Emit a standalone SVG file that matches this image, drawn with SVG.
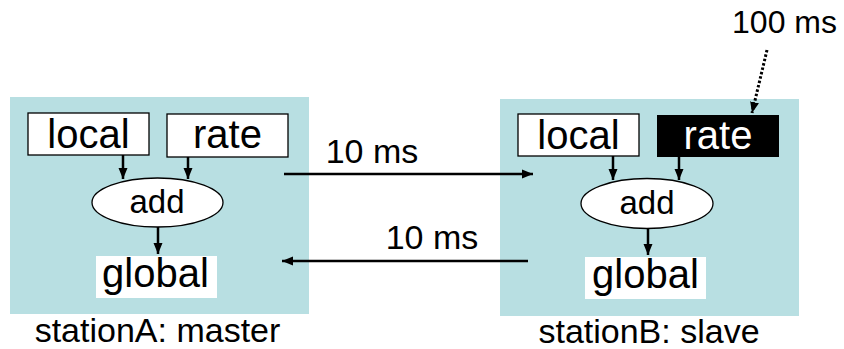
<svg xmlns="http://www.w3.org/2000/svg" width="844" height="349" viewBox="0 0 844 349">
<defs>
<marker id="ah" markerUnits="userSpaceOnUse" markerWidth="12" markerHeight="12" viewBox="0 0 12 12" refX="11" refY="6" orient="auto">
<path d="M0,1.5 L11,6 L0,10.5 Z" fill="#000"/>
</marker>
<style>
.panel{fill:#b8dfe2}
.box{fill:#fff;stroke:#000;stroke-width:1.3}
.t{font-family:"Liberation Sans",Arial,sans-serif;fill:#000;text-anchor:middle}
.con{stroke:#000;stroke-width:2.5;fill:none;marker-end:url(#ah)}
.dot{stroke:#000;stroke-width:3;fill:none;stroke-dasharray:2.5 2;marker-end:url(#ah)}
</style>
</defs>
<rect width="844" height="349" fill="#fff"/>
<g id="stationA">
<rect class="panel" x="10" y="97" width="299" height="217"/>
<text class="t" x="157.5" y="342" font-size="34">stationA: master</text>
</g>
<g id="stationB">
<rect class="panel" x="500" y="99" width="299" height="217"/>
<text class="t" x="649" y="343" font-size="34">stationB: slave</text>
</g>
<g id="localA"><rect class="box" x="28" y="113" width="121" height="42"/><text class="t" x="88.5" y="148" font-size="40">local</text></g>
<g id="rateA"><rect class="box" x="167" y="114" width="121" height="43"/><text class="t" x="227.5" y="148" font-size="40">rate</text></g>
<g id="addA"><ellipse cx="157.5" cy="202.5" rx="65.5" ry="24.5" class="box"/><text class="t" x="157" y="213" font-size="33">add</text></g>
<g id="globalA"><rect x="96" y="256" width="121" height="42" fill="#fff"/><text class="t" x="155.5" y="287" font-size="40">global</text></g>
<g id="localB"><rect class="box" x="518" y="114" width="121" height="42"/><text class="t" x="578.5" y="149" font-size="40">local</text></g>
<g id="rateB"><rect x="657" y="115" width="122" height="42" fill="#000"/><text class="t" x="718" y="149" font-size="40" style="fill:#fff">rate</text></g>
<g id="addB"><ellipse cx="647" cy="203.5" rx="66" ry="25" class="box"/><text class="t" x="647" y="214" font-size="33">add</text></g>
<g id="globalB"><rect x="585" y="257" width="121" height="42" fill="#fff"/><text class="t" x="645.5" y="288" font-size="40">global</text></g>
<g id="label100"><text class="t" x="784.5" y="33" font-size="32">100 ms</text></g>
<g id="connectors">
<line class="con" x1="123" y1="155" x2="123" y2="179"/>
<line class="con" x1="188" y1="157" x2="188" y2="179"/>
<line class="con" x1="158" y1="227" x2="158" y2="254"/>
<line class="con" x1="613" y1="156" x2="613" y2="180"/>
<line class="con" x1="679" y1="157" x2="679" y2="180"/>
<line class="con" x1="648" y1="229" x2="648" y2="255"/>
<line class="con" x1="284" y1="174" x2="533" y2="174"/>
<line class="con" x1="528" y1="261" x2="282" y2="261"/>
<line class="dot" x1="767" y1="50" x2="752" y2="113"/>
<text class="t" x="372" y="163" font-size="34">10 ms</text>
<text class="t" x="432" y="249" font-size="34">10 ms</text>
</g>
</svg>
